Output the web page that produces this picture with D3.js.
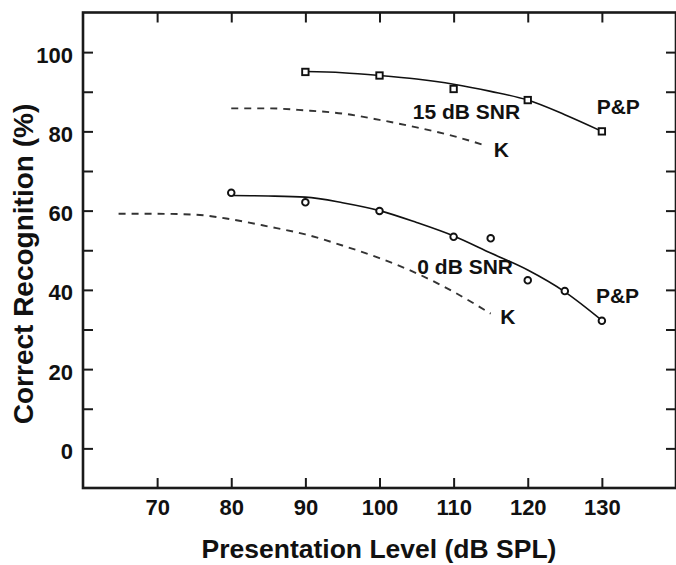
<!DOCTYPE html>
<html>
<head>
<meta charset="utf-8">
<script src="https://cdn.jsdelivr.net/npm/d3@7"></script>
<style>
  html, body { margin: 0; padding: 0; background: #fff; }
  svg { display: block; }
  text { font-family: "Liberation Sans", Arial, Helvetica, sans-serif; font-weight: bold; fill: #111; }
</style>
</head>
<body>
<svg id="chart" width="676" height="565"></svg>
<script>
// Phoneme (P&P) scores: measured points, 15 dB SNR and 0 dB SNR
const ppLevels15 = [90, 100, 110, 120, 130];
const ppScores15 = [95, 94.1, 90.7, 87.9, 80];
const ppLevels0 = [80, 90, 100, 110, 115, 120, 125, 130];
const ppScores0 = [64.5, 62.1, 59.9, 53.4, 53, 42.4, 39.7, 32.2];

// Smooth fits through the P&P scores
const fitLevels15 = [90, 95, 100, 105, 110, 115, 120, 125, 130];
const fitScores15 = [95.1, 94.8, 94.1, 93.2, 91.9, 90.1, 87.9, 84.2, 80.0];
const fitLevels0 = [80, 85, 90, 95, 100, 105, 110, 115, 120, 125, 130];
const fitScores0 = [63.8, 63.7, 63.4, 62.0, 60.0, 57.0, 53.6, 49.3, 45.0, 39.5, 32.3];

// Comparison curves (K), dashed
const kLevels15 = [80, 85, 90, 95, 100, 105, 110, 114.5];
const kScores15 = [85.8, 85.8, 85.3, 84.5, 82.9, 81.0, 78.8, 76.3];
const kLevels0 = [64.8, 70, 75, 80, 85, 90, 95, 100, 105, 110, 115];
const kScores0 = [59.2, 59.2, 59.0, 57.8, 56.0, 54.0, 51.2, 48.0, 44.2, 39.5, 34.0];

// Axis ticks
const xTicks = [70, 80, 90, 100, 110, 120, 130];
const yTicks = [0, 10, 20, 30, 40, 50, 60, 70, 80, 90, 100];

// Curve annotations, anchored in data units (level, percent)
const noteText = ["15 dB SNR", "P&P", "K", "0 dB SNR", "P&P", "K"];
const noteLevel = [104.5, 129.3, 115.4, 105.1, 129.2, 116.3];
const notePct = [83.2, 84.3, 73.6, 43.9, 36.7, 31.3];

const svg = d3.select("#chart");
const plotLeft = 83, plotRight = 676, plotTop = 12.5, plotBottom = 488;

const x = d3.scaleLinear().domain([60, 140]).range([plotLeft, plotRight]);
const y = d3.scaleLinear().domain([-10, 110]).range([plotBottom, plotTop]);

// Axes with inward ticks on all four sides
const axisColor = "#1a1a1a";
function styleAxis(g) {
  g.select(".domain").remove();
  g.selectAll(".tick line").attr("stroke", axisColor).attr("stroke-width", 2);
  g.selectAll(".tick text").style("font-size", "22px").attr("fill", "#111");
}

svg.append("g")
  .attr("transform", `translate(0,${plotBottom})`)
  .call(d3.axisBottom(x).tickValues(xTicks).tickSize(-10).tickPadding(11))
  .call(styleAxis);

svg.append("g")
  .attr("transform", `translate(0,${plotTop})`)
  .call(d3.axisTop(x).tickValues(xTicks).tickSize(-10).tickFormat(""))
  .call(styleAxis);

svg.append("g")
  .attr("transform", `translate(${plotLeft},0)`)
  .call(d3.axisLeft(y).tickValues(yTicks).tickSize(-10).tickPadding(10)
    .tickFormat(d => d % 20 === 0 ? d : ""))
  .call(styleAxis)
  .call(g => g.selectAll(".tick text").attr("dy", "0.45em"));

svg.append("g")
  .attr("transform", `translate(${plotRight},0)`)
  .call(d3.axisRight(y).tickValues(yTicks).tickSize(-10).tickFormat(""))
  .call(styleAxis);

// Plot frame
svg.append("rect")
  .attr("x", plotLeft).attr("y", plotTop)
  .attr("width", plotRight - plotLeft).attr("height", plotBottom - plotTop)
  .attr("fill", "none").attr("stroke", axisColor).attr("stroke-width", 2.6);

// Axis titles
svg.append("text")
  .attr("x", 379).attr("y", 558)
  .attr("text-anchor", "middle")
  .style("font-size", "26.5px")
  .text("Presentation Level (dB SPL)");

svg.append("text")
  .attr("transform", "translate(33,264) rotate(-90)")
  .attr("text-anchor", "middle")
  .style("font-size", "28px")
  .text("Correct Recognition (%)");

// Curves
const line = d3.line().x(d => x(d[0])).y(d => y(d[1])).curve(d3.curveMonotoneX);
const zip = (a, b) => a.map((v, i) => [v, b[i]]);

const plot = svg.append("g");

plot.append("path")
  .datum(zip(kLevels15, kScores15))
  .attr("d", line).attr("fill", "none")
  .attr("stroke", "#333").attr("stroke-width", 1.9).attr("stroke-dasharray", "7,6");

plot.append("path")
  .datum(zip(kLevels0, kScores0))
  .attr("d", line).attr("fill", "none")
  .attr("stroke", "#333").attr("stroke-width", 1.9).attr("stroke-dasharray", "7,6");

plot.append("path")
  .datum(zip(fitLevels15, fitScores15))
  .attr("d", line).attr("fill", "none")
  .attr("stroke", "#111").attr("stroke-width", 1.6);

plot.append("path")
  .datum(zip(fitLevels0, fitScores0))
  .attr("d", line).attr("fill", "none")
  .attr("stroke", "#111").attr("stroke-width", 1.6);

// Open square markers (15 dB SNR)
plot.selectAll("rect.pp15")
  .data(zip(ppLevels15, ppScores15))
  .join("rect")
  .attr("class", "pp15")
  .attr("x", d => x(d[0]) - 3.2).attr("y", d => y(d[1]) - 3.2)
  .attr("width", 6.4).attr("height", 6.4)
  .attr("fill", "#fff").attr("stroke", "#111").attr("stroke-width", 1.9);

// Open circle markers (0 dB SNR)
plot.selectAll("circle.pp0")
  .data(zip(ppLevels0, ppScores0))
  .join("circle")
  .attr("class", "pp0")
  .attr("cx", d => x(d[0])).attr("cy", d => y(d[1]))
  .attr("r", 3.3)
  .attr("fill", "#fff").attr("stroke", "#111").attr("stroke-width", 1.9);

// Annotations
plot.selectAll("text.note")
  .data(noteText.map((t, i) => ({ t, lv: noteLevel[i], p: notePct[i] })))
  .join("text")
  .attr("class", "note")
  .attr("x", d => x(d.lv)).attr("y", d => y(d.p))
  .style("font-size", "21px")
  .text(d => d.t);
</script>
</body>
</html>
